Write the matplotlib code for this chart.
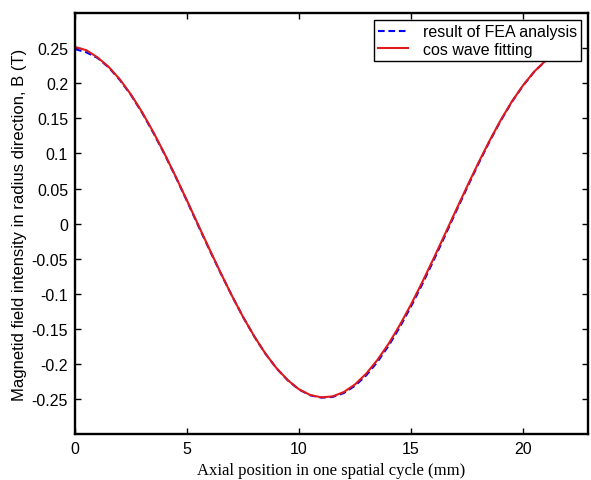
import matplotlib
matplotlib.use("Agg")
import matplotlib.pyplot as plt

# axial position (mm), sampled every 0.5 mm
x_mm = [0.0, 0.5, 1.0, 1.5, 2.0, 2.5, 3.0, 3.5, 4.0, 4.5, 5.0, 5.5,
        6.0, 6.5, 7.0, 7.5, 8.0, 8.5, 9.0, 9.5, 10.0, 10.5, 11.0, 11.5,
        12.0, 12.5, 13.0, 13.5, 14.0, 14.5, 15.0, 15.5, 16.0, 16.5, 17.0,
        17.5, 18.0, 18.5, 19.0, 19.5, 20.0, 20.5, 21.0, 21.5, 22.0, 22.5]

# result of FEA analysis (T)
b_fea = [0.2485, 0.2440, 0.2360, 0.2225, 0.2045, 0.1830, 0.1575, 0.1290,
         0.0985, 0.0660, 0.0320, -0.0030, -0.0372, -0.0705, -0.1025, -0.1330,
         -0.1607, -0.1853, -0.2063, -0.2233, -0.2363, -0.2445, -0.2478, -0.2468,
         -0.2412, -0.2308, -0.2160, -0.1968, -0.1738, -0.1472, -0.1178, -0.0862,
         -0.0528, -0.0182, 0.0168, 0.0512, 0.0848, 0.1168, 0.1465, 0.1733,
         0.1966, 0.2163, 0.2317, 0.2426, 0.2488, 0.2503]

# cos wave fitting (T)
b_fit = [0.2515, 0.2470, 0.2368, 0.2232, 0.2054, 0.1836, 0.1583, 0.1300,
         0.0992, 0.0665, 0.0326, -0.0020, -0.0364, -0.0701, -0.1025, -0.1329,
         -0.1605, -0.1852, -0.2061, -0.2230, -0.2360, -0.2441, -0.2474, -0.2460,
         -0.2398, -0.2289, -0.2135, -0.1940, -0.1709, -0.1443, -0.1149, -0.0833,
         -0.0500, -0.0158, 0.0188, 0.0530, 0.0863, 0.1179, 0.1473, 0.1739,
         0.1970, 0.2166, 0.2319, 0.2427, 0.2489, 0.2504]

x_ticks = [0, 5, 10, 15, 20]
y_ticks = [-0.25, -0.2, -0.15, -0.1, -0.05, 0, 0.05, 0.1, 0.15, 0.2, 0.25]
y_labels = ["-0.25", "-0.2", "-0.15", "-0.1", "-0.05", "0",
            "0.05", "0.1", "0.15", "0.2", "0.25"]

fig = plt.figure(figsize=(5.91, 4.81), dpi=100)
ax = fig.add_axes([0.127, 0.095, 0.868, 0.876])

ax.plot(x_mm, b_fea, "--", color="#0000ff", lw=1.5, label="result of FEA analysis",
        dashes=(3.2, 1.8))
ax.plot(x_mm, b_fit, "-", color="#e01a1a", lw=1.5, label="cos wave fitting")

ax.set_xlim(0, 22.9)
ax.set_ylim(-0.3, 0.3)
ax.set_xticks(x_ticks)
ax.set_xticklabels([str(t) for t in x_ticks], family="Liberation Sans", fontsize=11.5)
ax.set_yticks(y_ticks)
ax.set_yticklabels(y_labels, family="Liberation Sans", fontsize=11.5)
ax.tick_params(direction="in", top=True, right=True, length=4, width=1, pad=5)

for s in ax.spines.values():
    s.set_linewidth(1.7)

ax.set_xlabel("Axial position in one spatial cycle (mm)", family="Liberation Serif",
              fontsize=12, labelpad=4)
ax.set_ylabel("Magnetid field intensity in radius direction, B (T)",
              family="Liberation Sans", fontsize=12, labelpad=3)

leg = ax.legend(loc="upper right", prop={"family": "Liberation Sans", "size": 11.5},
                fancybox=False, framealpha=1, edgecolor="black", handlelength=1.9,
                borderaxespad=0.45, borderpad=0.25, labelspacing=0.15, handletextpad=0.9)
leg.get_frame().set_linewidth(1.0)

fig.savefig("out.png", dpi=100)
